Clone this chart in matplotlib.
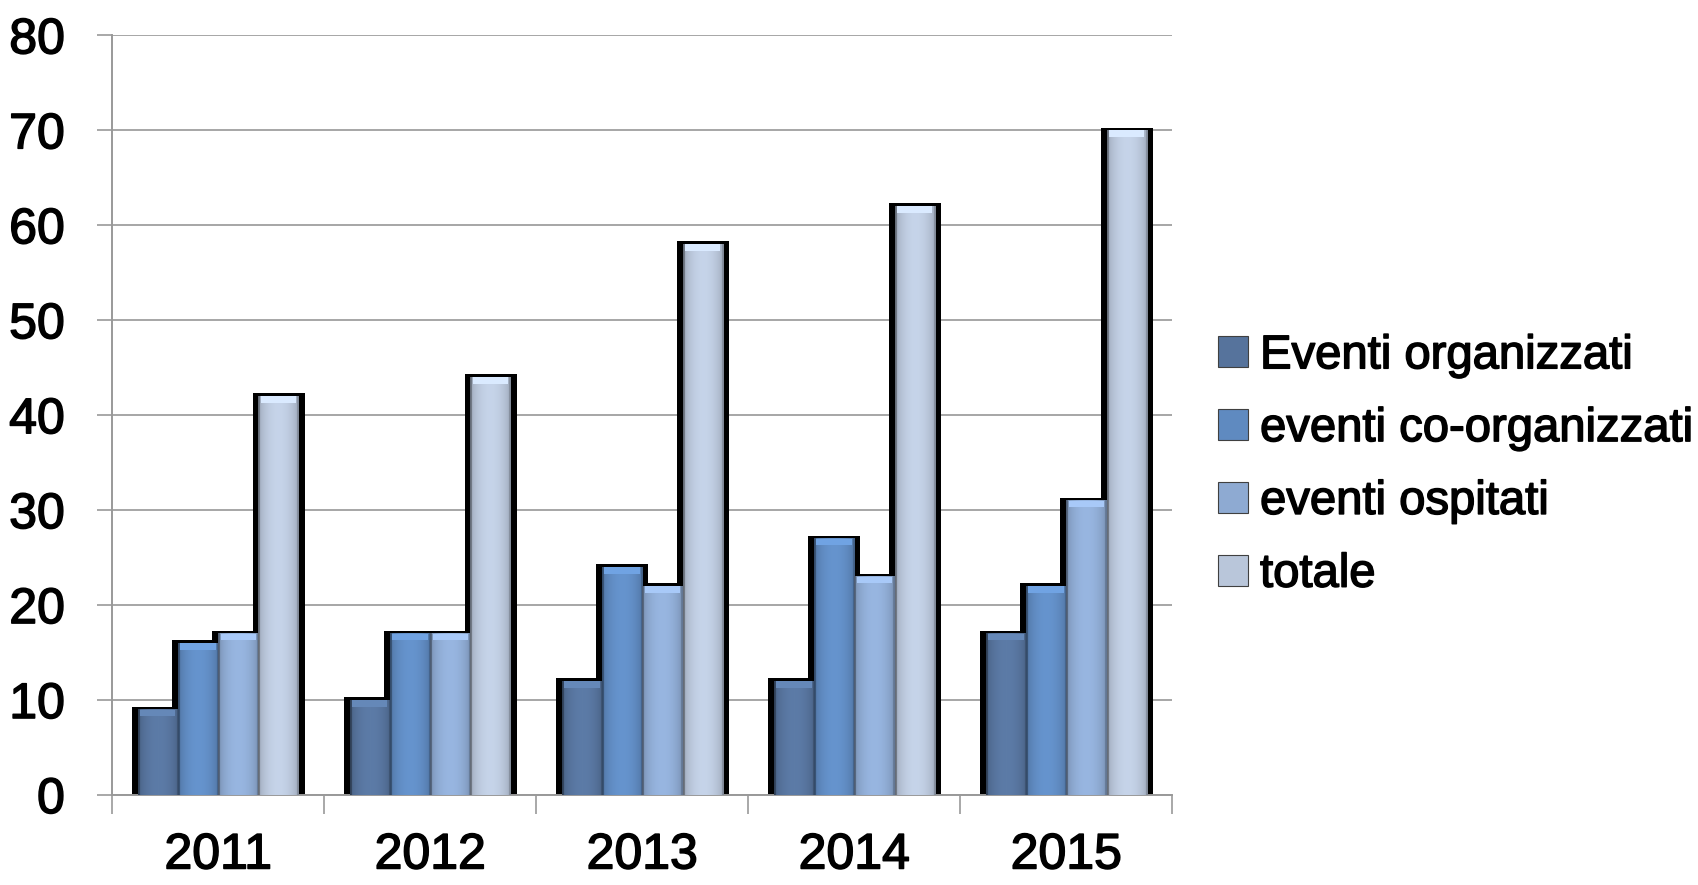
import numpy as np
import matplotlib
matplotlib.use('Agg')
import matplotlib.pyplot as plt
import matplotlib.patheffects as pe
from matplotlib.colors import to_rgb
from matplotlib.patches import Rectangle

years = ['2011', '2012', '2013', '2014', '2015']
series = ['Eventi organizzati', 'eventi co-organizzati', 'eventi ospitati', 'totale']
organizzati = [9, 10, 12, 12, 17]
co_organizzati = [16, 17, 24, 27, 22]
ospitati = [17, 17, 22, 23, 31]
totale = [42, 44, 58, 62, 70]
values = [organizzati, co_organizzati, ospitati, totale]
colors = ['#56739c', '#5f8ac0', '#8eaad2', '#b9c6da']

plt.rcParams['font.family'] = ['Liberation Sans', 'DejaVu Sans']
thick = [pe.withStroke(linewidth=1.1, foreground='black')]

fig = plt.figure(figsize=(16.99, 8.85), dpi=100)
ax = fig.add_axes([0.066, 0.1017, 0.624, 0.8583])

x = np.arange(len(years))
bw = 0.19
offsets = (np.arange(4) - 1.5) * bw


def shade(base, n=64):
    # bevel: dark edges, lighter centre
    r = np.array(to_rgb(base))
    t = np.linspace(0, 1, n)
    prof = 0.82 + 0.25 * np.sin(np.pi * t) ** 0.6
    prof[:3] = 0.55
    prof[-3:] = 0.7
    img = np.clip(r[None, :] * prof[:, None], 0, 1)
    return img[None, :, :]


# black outer shadow behind all bars first
for i, vals in enumerate(values):
    ax.bar(x + offsets[i], np.array(vals) + 0.3, width=bw + 0.056, color='black',
           zorder=2, linewidth=0)

handles = []
for i, (vals, col) in enumerate(zip(values, colors)):
    bars = ax.bar(x + offsets[i], vals, width=bw, color=col, zorder=3, linewidth=0)
    handles.append(Rectangle((0, 0), 1, 1, facecolor=col, edgecolor='#404040', linewidth=0.8))
    img = shade(col)
    for b in bars:
        bx, by = b.get_x(), b.get_y()
        w, h = b.get_width(), b.get_height()
        ax.imshow(img, extent=(bx, bx + w, by, by + h), aspect='auto', zorder=4,
                  interpolation='bilinear')
        top = np.clip(np.array(to_rgb(col)) * 1.18, 0, 1)
        ax.add_patch(Rectangle((bx + w * 0.06, by + h - 0.7), w * 0.88, 0.7,
                               facecolor=top, edgecolor='none', zorder=5))

ax.set_xlim(-0.5, len(years) - 0.5)
ax.set_ylim(0, 80)
ax.set_yticks(np.arange(0, 81, 10))
ax.set_xticks(x)
ax.set_xticklabels(years)
ax.set_xticks(np.arange(-0.5, len(years)), minor=True)
ax.tick_params(axis='x', which='major', length=0, pad=27, labelsize=36)
ax.tick_params(axis='x', which='minor', length=14, color='#999999', width=1.2)
ax.tick_params(axis='y', length=11, color='#999999', width=1.2, pad=23, labelsize=36)
for lab in ax.get_xticklabels() + ax.get_yticklabels():
    lab.set_path_effects(thick)
ax.grid(axis='y', color='#a6a6a6', linewidth=1.4, zorder=0)
ax.set_axisbelow(True)
for s in ['top', 'right']:
    ax.spines[s].set_visible(False)
for s in ['left', 'bottom']:
    ax.spines[s].set_color('#999999')
    ax.spines[s].set_linewidth(1.4)

leg = fig.legend(handles, series, loc='center left', bbox_to_anchor=(0.703, 0.474),
                 frameon=False, fontsize=34, borderpad=0, handlelength=0.64,
                 handleheight=0.64, handletextpad=0.25, labelspacing=0.61)
for t in leg.get_texts():
    t.set_path_effects(thick)

fig.savefig('out.png', dpi=100, facecolor='white')
